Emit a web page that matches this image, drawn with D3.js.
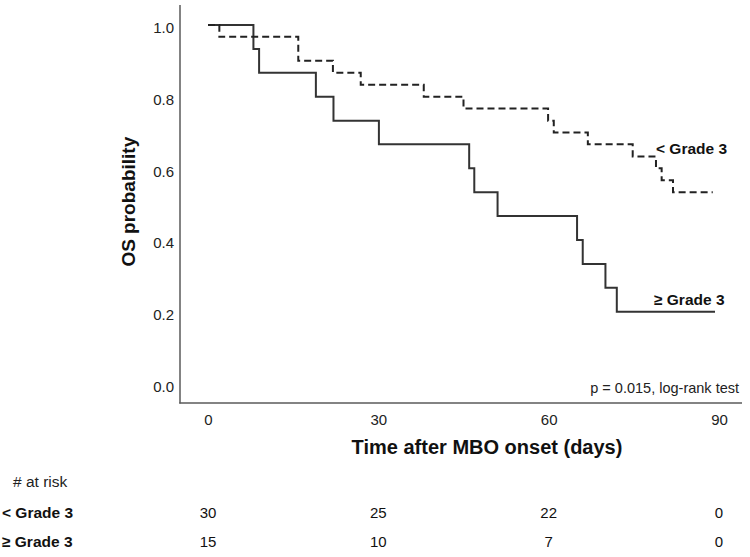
<!DOCTYPE html>
<html>
<head>
<meta charset="utf-8">
<script src="https://cdn.jsdelivr.net/npm/d3@7"></script>
<style>
  body { margin: 0; background: #fff; }
  svg { font-family: "Liberation Sans", Arial, sans-serif; }
</style>
</head>
<body>
<svg id="chart"></svg>
<script>
// Kaplan-Meier steps (days, survival)
const lowTimes = [0, 2.0, 15.9, 22.0, 26.9, 38.0, 45.0, 59.9, 60.9, 66.9, 74.8, 78.9, 79.9, 81.9, 88.9];
const lowSurv = [1, 0.967, 0.9, 0.867, 0.833, 0.8, 0.767, 0.733, 0.7, 0.667, 0.633, 0.6, 0.567, 0.533, 0.533];

const highTimes = [0, 8.0, 9.0, 19.0, 22.1, 30.1, 46.0, 46.9, 51.0, 65.0, 66.0, 70.0, 72.0, 89.3];
const highSurv = [1, 0.933, 0.867, 0.8, 0.733, 0.667, 0.6, 0.533, 0.467, 0.4, 0.333, 0.267, 0.2, 0.2];

const xTicks = [0, 30, 60, 90];
const yTicks = [0, 0.2, 0.4, 0.6, 0.8, 1.0];

const groups = ['< Grade 3', '\u2265 Grade 3'];
const riskLow = [30, 25, 22, 0];
const riskHigh = [15, 10, 7, 0];

const width = 750;
const height = 557;

const svg = d3.select('#chart').attr('width', width).attr('height', height);

// scales
const x = d3.scaleLinear().domain([0, 90]).range([208, 719]);
const y = d3.scaleLinear().domain([0, 1]).range([383.4, 25]);

const axisColor = '#5a5a5a';
const textColor = '#222';

// axis lines (they run past the data range)
svg.append('line')
  .attr('x1', 180).attr('x2', 180).attr('y1', 5).attr('y2', 403.5)
  .attr('stroke', axisColor).attr('stroke-width', 1.5);
svg.append('line')
  .attr('x1', 179.3).attr('x2', 742).attr('y1', 403).attr('y2', 403)
  .attr('stroke', axisColor).attr('stroke-width', 1.5);

// y ticks
const yAxis = svg.append('g')
  .attr('transform', 'translate(180,0)')
  .call(d3.axisLeft(y).tickValues(yTicks).tickSize(0).tickPadding(6).tickFormat(d3.format('.1f')));
yAxis.select('.domain').remove();
yAxis.selectAll('text')
  .attr('y', 3)
  .style('font-size', '15px')
  .style('fill', textColor)
  .style('font-family', '"Liberation Sans", Arial, sans-serif');

// x ticks
const xAxis = svg.append('g')
  .attr('transform', 'translate(0,403)')
  .call(d3.axisBottom(x).tickValues(xTicks).tickSize(0));
xAxis.select('.domain').remove();
xAxis.selectAll('text')
  .attr('y', 17)
  .attr('dy', '0.35em')
  .style('font-size', '15px')
  .style('fill', textColor)
  .style('font-family', '"Liberation Sans", Arial, sans-serif');

// axis titles
svg.append('text')
  .attr('x', 487)
  .attr('y', 447)
  .attr('dy', '0.35em')
  .attr('text-anchor', 'middle')
  .style('font-size', '20px')
  .style('font-weight', 'bold')
  .style('fill', '#111')
  .text('Time after MBO onset (days)');

svg.append('text')
  .attr('transform', 'translate(128,201.7) rotate(-90)')
  .attr('dy', '0.35em')
  .attr('text-anchor', 'middle')
  .style('font-size', '19px')
  .style('font-weight', 'bold')
  .style('fill', '#111')
  .text('OS probability');

// survival curves
const line = d3.line()
  .x((d) => x(d.t))
  .y((d) => y(d.s))
  .curve(d3.curveStepAfter);

const lowData = lowTimes.map((t, i) => ({ t: t, s: lowSurv[i] }));
const highData = highTimes.map((t, i) => ({ t: t, s: highSurv[i] }));

svg.append('path')
  .datum(highData)
  .attr('d', line)
  .attr('fill', 'none')
  .attr('stroke', '#333')
  .attr('stroke-width', 2);

svg.append('path')
  .datum(lowData)
  .attr('d', line)
  .attr('fill', 'none')
  .attr('stroke', '#222')
  .attr('stroke-width', 2)
  .attr('stroke-dasharray', '7,4');

// curve labels
svg.append('text')
  .attr('x', 656).attr('y', 148.3).attr('dy', '0.35em')
  .style('font-size', '15.5px').style('font-weight', 'bold').style('fill', '#111')
  .text(groups[0]);
svg.append('text')
  .attr('x', 654).attr('y', 299.3).attr('dy', '0.35em')
  .style('font-size', '15.5px').style('font-weight', 'bold').style('fill', '#111')
  .text(groups[1]);

// p value
svg.append('text')
  .attr('x', 739).attr('y', 388).attr('dy', '0.35em')
  .attr('text-anchor', 'end')
  .style('font-size', '14.5px').style('fill', textColor)
  .text('p = 0.015, log-rank test');

// number at risk table
svg.append('text')
  .attr('x', 13).attr('y', 481.7).attr('dy', '0.35em')
  .style('font-size', '15.5px').style('fill', textColor)
  .text('# at risk');

const rows = [riskLow, riskHigh];
const rowY = [512.7, 541.7];
rows.forEach((vals, r) => {
  svg.append('text')
    .attr('x', 2).attr('y', rowY[r]).attr('dy', '0.35em')
    .style('font-size', '15.5px').style('font-weight', 'bold').style('fill', '#111')
    .text(groups[r]);
  svg.selectAll(null)
    .data(vals)
    .enter()
    .append('text')
    .attr('x', (d, i) => x(xTicks[i]))
    .attr('y', rowY[r])
    .attr('dy', '0.35em')
    .attr('text-anchor', 'middle')
    .style('font-size', '15px')
    .style('fill', '#111')
    .text((d) => d);
});
</script>
</body>
</html>
